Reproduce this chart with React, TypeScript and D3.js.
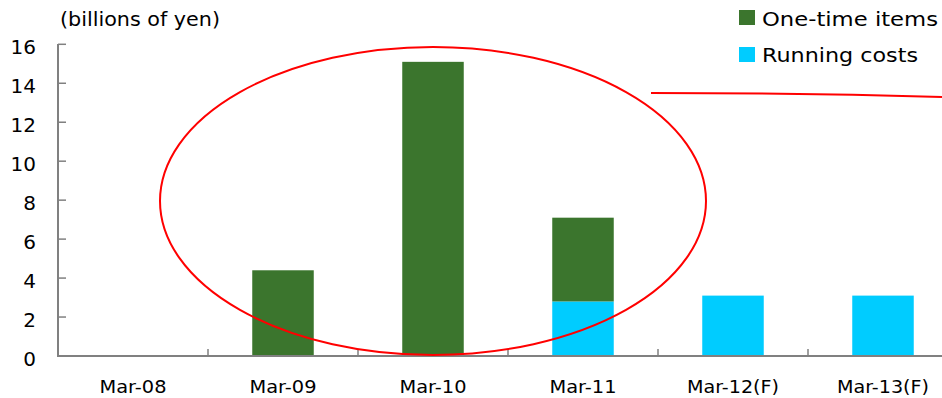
import React from "react";
import * as d3 from "d3";

const categories = ["Mar-08", "Mar-09", "Mar-10", "Mar-11", "Mar-12(F)", "Mar-13(F)"];
const runningCosts = [0, 0, 0, 2.8, 3.1, 3.1];
const oneTimeItems = [0, 4.4, 15.1, 4.3, 0, 0];
const yTicks = [0, 2, 4, 6, 8, 10, 12, 14, 16];
const seriesNames = ["One-time items", "Running costs"];
const seriesColors = ["#3b752d", "#00ccff"];

const W = 942;
const H = 398;
const FONT = "'DejaVu Sans', 'Noto Sans', sans-serif";

export default function App() {
  const x = d3.scaleBand<string>().domain(categories).range([58, 958]).paddingInner(0.59).paddingOuter(0.295);
  const xOuter = d3.scaleBand<string>().domain(categories).range([58, 958]);
  const y = d3.scaleLinear().domain([0, 16]).range([356, 44.3]);

  const rows = categories.map((c, i) => ({ cat: c, running: runningCosts[i], oneTime: oneTimeItems[i] }));
  const stack = d3.stack<any>().keys(["running", "oneTime"])(rows);
  const colorFor: Record<string, string> = { running: seriesColors[1], oneTime: seriesColors[0] };

  return (
    <svg width={W} height={H} style={{ position: "absolute", left: 0, top: 0, background: "#fff" }}>
      {stack.map((s) =>
        s.map((d, i) =>
          d[1] - d[0] > 0 ? (
            <rect
              key={s.key + i}
              x={x(categories[i])}
              width={x.bandwidth()}
              y={y(d[1])}
              height={y(d[0]) - y(d[1])}
              fill={colorFor[s.key]}
            />
          ) : null
        )
      )}
      {/* y axis */}
      <line x1={58} x2={58} y1={44} y2={357} stroke="#808080" strokeWidth={2} />
      {yTicks.map((t) => (
        <g key={t}>
          <line x1={58} x2={66} y1={y(t)} y2={y(t)} stroke="#808080" strokeWidth={1.5} />
          <text x={36} y={y(t) + 10} textAnchor="end" fontSize={20} fontFamily={FONT} fill="#000">
            {t}
          </text>
        </g>
      ))}
      {/* x axis */}
      <line x1={57} x2={942} y1={356} y2={356} stroke="#808080" strokeWidth={2} />
      {categories.map((c, i) =>
        i > 0 ? (
          <line key={"t" + c} x1={xOuter(c)} x2={xOuter(c)} y1={349} y2={356} stroke="#808080" strokeWidth={1.5} />
        ) : null
      )}
      {categories.map((c) => (
        <text
          key={"l" + c}
          x={(xOuter(c) as number) + xOuter.bandwidth() / 2}
          y={393}
          textAnchor="middle"
          fontSize={17}
          textLength={c.length > 6 ? 92 : 67}
          lengthAdjust="spacingAndGlyphs"
          fontFamily={FONT}
          fill="#000"
        >
          {c}
        </text>
      ))}
      <text x={60} y={26} fontSize={20} textLength={160} lengthAdjust="spacingAndGlyphs" fontFamily={FONT} fill="#000">
        (billions of yen)
      </text>
      {/* legend */}
      {seriesNames.map((n, i) => (
        <g key={n}>
          <rect x={739} y={10 + i * 37} width={16} height={15} fill={seriesColors[i]} />
          <text
            x={762}
            y={26 + i * 36}
            fontSize={20}
            textLength={i === 0 ? 176 : 156}
            lengthAdjust="spacingAndGlyphs"
            fontFamily={FONT}
            fill="#000"
          >
            {n}
          </text>
        </g>
      ))}
      {/* annotations */}
      <ellipse cx={433} cy={201} rx={273} ry={154} fill="none" stroke="#ff0000" strokeWidth={2} />
      <path d="M651,93 Q800,93 942,97" fill="none" stroke="#ff0000" strokeWidth={2} />
    </svg>
  );
}
